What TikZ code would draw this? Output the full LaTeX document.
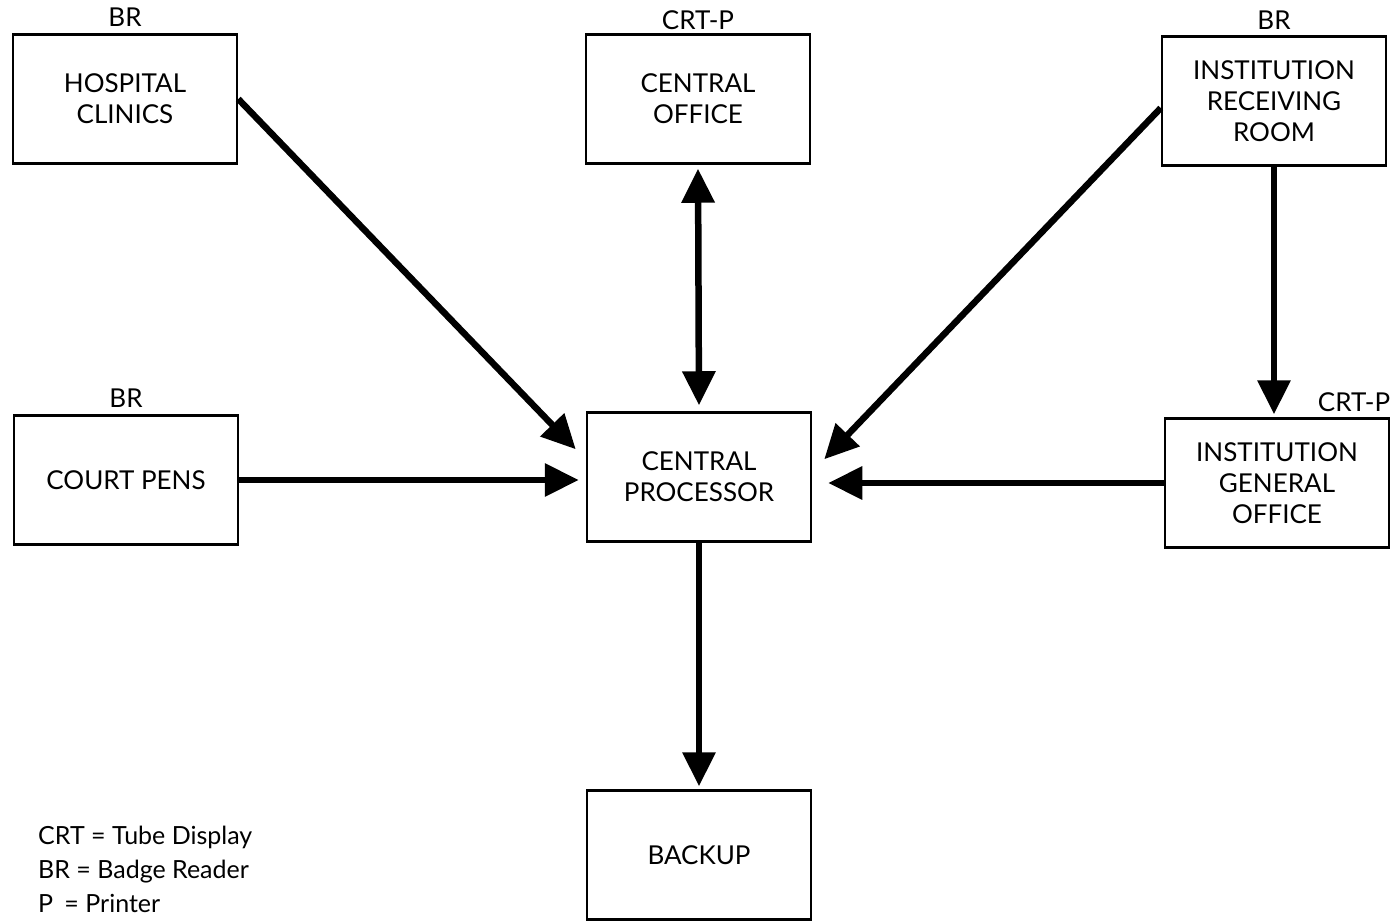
\documentclass[tikz,border=0pt]{standalone}
\usepackage{fontspec}
\setmainfont{Lato}
\usetikzlibrary{arrows.meta}
\usetikzlibrary{positioning}

\begin{document}
\begin{tikzpicture}[x=1pt, y=-1pt, font=\fontsize{26}{31}\selectfont,
  block/.style={draw, line width=2.5pt, minimum width=224pt, minimum height=129pt, align=center, inner sep=0pt},
  tag/.style={inner sep=0pt},
  flow/.style={line width=6.5pt, -{Triangle[length=34pt,width=32pt]}},
  twoway/.style={line width=6.5pt, {Triangle[length=34pt,width=32pt]}-{Triangle[length=34pt,width=32pt]}}]

\useasboundingbox (0,0) rectangle (1397,921);

% boxes
\node[block] (hosp) at (125,99) {HOSPITAL\\CLINICS};
\node[block] (co) at (698,99) {CENTRAL\\OFFICE};
\node[block] (rec) at (1274,101) {INSTITUTION\\RECEIVING\\ROOM};
\node[block] (court) at (126,480) {COURT PENS};
\node[block] (cp) at (699,477) {CENTRAL\\PROCESSOR};
\node[block] (gen) at (1277,483) {INSTITUTION\\GENERAL\\OFFICE};
\node[block] (backup) at (699,855) {BACKUP};

% devices
\node[tag, above=7pt of hosp] (hospbr) {BR};
\node[tag, above=3pt of co] (cocrt) {CRT-P};
\node[tag, above=6pt of rec] (recbr) {BR};
\node[tag, above=7pt of court] (courtbr) {BR};
\node[tag, anchor=south east] (gencrt) at ([yshift=5pt]gen.north east) {CRT-P};

% links
\draw[flow] (hosp.east) -- ([xshift=-10pt,yshift=-38pt]cp.north west);
\draw[flow] (court.east) -- ([xshift=-7pt]cp.west |- court.east);
\draw[twoway, shorten <=4pt, shorten >=6pt] (co.south) -- (cp.north);
\draw[flow] ([yshift=-7pt]rec.west) -- ([xshift=12pt,yshift=-48pt]cp.north east);
\draw[flow] (gen.west) -- ([xshift=16pt]cp.east |- gen.west);
\draw[flow] (rec.south) -- ([yshift=3pt]rec.south |- gen.north);
\draw[flow, shorten >=3pt] (cp.south) -- (backup.north);

% legend
\node[tag, anchor=north west, align=left, font=\fontsize{25}{34}\selectfont] (legend) at (38,826)
  {CRT = Tube Display\\BR = Badge Reader\\P\hspace{0.45em}= Printer};

\end{tikzpicture}
\end{document}
